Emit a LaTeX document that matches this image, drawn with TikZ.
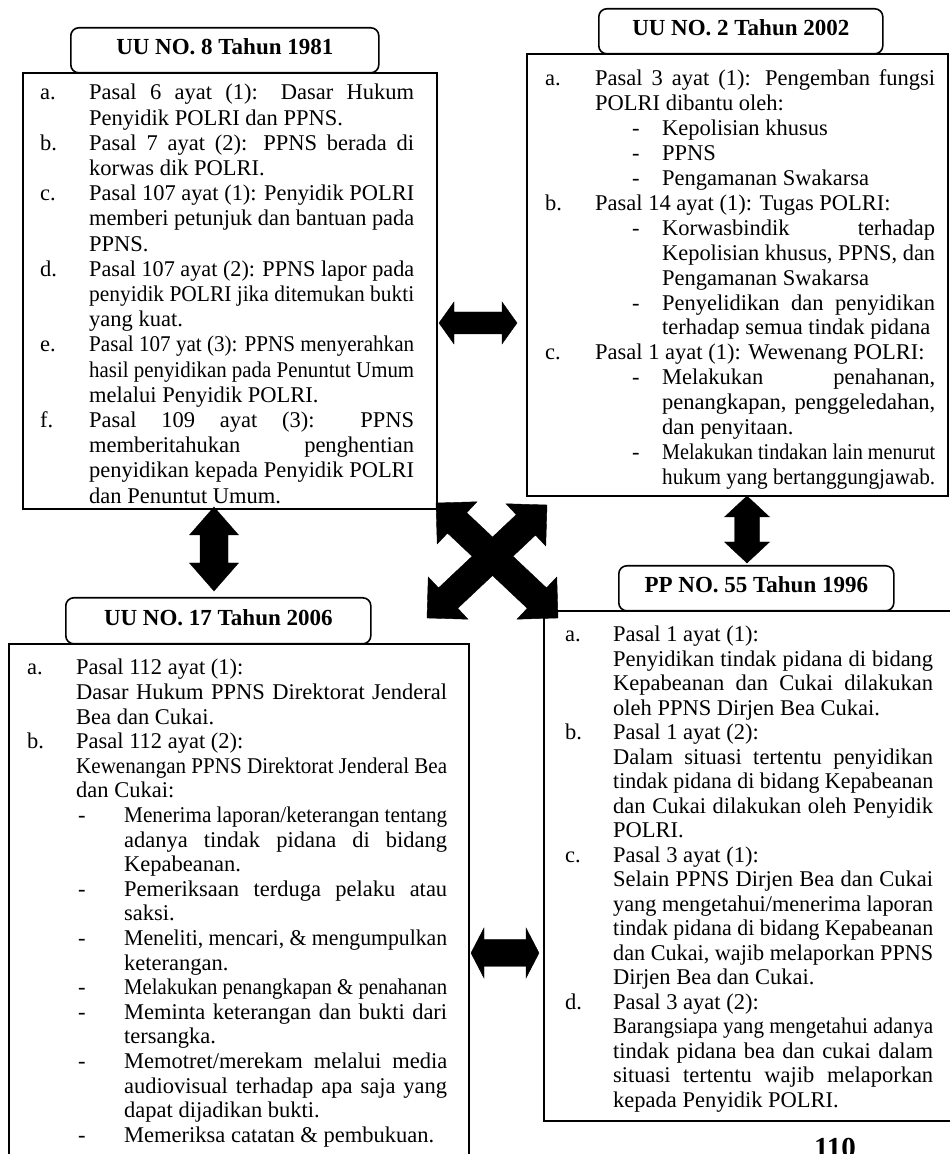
\documentclass[tikz,border=0pt]{standalone}
\usepackage{fontspec}
\setmainfont{Liberation Serif}
\usepackage{graphicx}
\usetikzlibrary{calc}
\newsavebox\xlinebox
\newlength\labw \newlength\dashx \newlength\subx
\hbadness=10000 \hfuzz=100pt
\newcommand\bodyfont{\fontsize{22.5}{25}\selectfont}
\newcommand\jline[2]{\sbox\xlinebox{#2}\ifdim\wd\xlinebox>#1\relax\resizebox{#1}{\height}{\usebox\xlinebox}\else\hbox to #1{#2}\fi}
\newcommand\rline[2]{\sbox\xlinebox{#2}\ifdim\wd\xlinebox>#1\relax\resizebox{#1}{\height}{\usebox\xlinebox}\else\hbox to #1{#2\hfil}\fi}
\newcommand\xLJ[2]{\hbox to\linewidth{\hbox to\labw{#1\hfil}\jline{\dimexpr\linewidth-\labw\relax}{#2}}}
\newcommand\xLR[2]{\hbox to\linewidth{\hbox to\labw{#1\hfil}\rline{\dimexpr\linewidth-\labw\relax}{#2}}}
\newcommand\xCJ[1]{\xLJ{}{#1}}
\newcommand\xCR[1]{\xLR{}{#1}}
\newcommand\xDJ[1]{\hbox to\linewidth{\hbox to\subx{\hskip\dashx\relax-\hfil}\jline{\dimexpr\linewidth-\subx\relax}{#1}}}
\newcommand\xDR[1]{\hbox to\linewidth{\hbox to\subx{\hskip\dashx\relax-\hfil}\rline{\dimexpr\linewidth-\subx\relax}{#1}}}
\newcommand\xSJ[1]{\hbox to\linewidth{\hskip\subx\relax\jline{\dimexpr\linewidth-\subx\relax}{#1}}}
\newcommand\xSR[1]{\hbox to\linewidth{\hskip\subx\relax\rline{\dimexpr\linewidth-\subx\relax}{#1}}}
% fat double arrow: from, to, shaft half width, head half width, head length
\newcommand\fatarrow[5]{%
  \path let \p1=(#1), \p2=(#2) in \pgfextra{%
    \pgfmathsetmacro\fax{\x1}\pgfmathsetmacro\fay{\y1}%
    \pgfmathsetmacro\fatlen{veclen(\x2-\x1,\y2-\y1)}%
    \pgfmathsetmacro\fux{(\x2-\x1)/\fatlen}%
    \pgfmathsetmacro\fuy{(\y2-\y1)/\fatlen}%
    \pgfmathsetmacro\fbk{\fatlen-#5}%
    \global\let\fax\fax \global\let\fay\fay \global\let\fatlen\fatlen
    \global\let\fux\fux \global\let\fuy\fuy \global\let\fbk\fbk};
  \path[fatshape]
    ({\fax},{\fay})
    -- ({\fax+(#5)*\fux-(#4)*\fuy},{\fay+(#5)*\fuy+(#4)*\fux})
    -- ({\fax+(#5)*\fux-(#3)*\fuy},{\fay+(#5)*\fuy+(#3)*\fux})
    -- ({\fax+(\fbk)*\fux-(#3)*\fuy},{\fay+(\fbk)*\fuy+(#3)*\fux})
    -- ({\fax+(\fbk)*\fux-(#4)*\fuy},{\fay+(\fbk)*\fuy+(#4)*\fux})
    -- ({\fax+(\fatlen)*\fux},{\fay+(\fatlen)*\fuy})
    -- ({\fax+(\fbk)*\fux+(#4)*\fuy},{\fay+(\fbk)*\fuy-(#4)*\fux})
    -- ({\fax+(\fbk)*\fux+(#3)*\fuy},{\fay+(\fbk)*\fuy-(#3)*\fux})
    -- ({\fax+(#5)*\fux+(#3)*\fuy},{\fay+(#5)*\fuy-(#3)*\fux})
    -- ({\fax+(#5)*\fux+(#4)*\fuy},{\fay+(#5)*\fuy-(#4)*\fux})
    -- cycle;
}
\tikzset{
  mainbox/.style={draw, line width=2.4pt, inner sep=0pt, anchor=north west},
  titlebox/.style={draw, line width=1.6pt, rounded corners=8pt, inner sep=0pt, anchor=north west,
    font=\fontsize{23}{27}\selectfont\bfseries, text height=16pt, text depth=7pt},
  bodytext/.style={anchor=base west, inner sep=0pt},
  fatshape/.style={fill=black, draw=black, line width=0.4pt, line join=miter},
}
\begin{document}
\begin{tikzpicture}[x=1pt,y=1pt]
\path[use as bounding box, fill=white] (0,0) rectangle (950,1154);

% ---------- Box 1 ----------
\node[titlebox, minimum width=308pt, minimum height=45pt] (t1) at (70,1127) {UU NO. 8 Tahun 1981};
\node[mainbox, minimum width=414pt, minimum height=436pt] (b1) at (22,1082) {};
\node[bodytext] (x1) at (40,1054) {\parbox[t]{374pt}{\bodyfont\baselineskip=25.2pt\lineskiplimit=-100pt\setlength\labw{49pt}%
\xLJ{a.}{Pasal 6 ayat (1): Dasar Hukum}
\xCR{Penyidik POLRI dan PPNS.}
\xLJ{b.}{Pasal 7 ayat (2): PPNS berada di}
\xCR{korwas dik POLRI.}
\xLJ{c.}{Pasal 107 ayat (1): Penyidik POLRI}
\xCJ{memberi petunjuk dan bantuan pada}
\xCR{PPNS.}
\xLJ{d.}{Pasal 107 ayat (2): PPNS lapor pada}
\xCJ{penyidik POLRI jika ditemukan bukti}
\xCR{yang kuat.}
\xLJ{e.}{Pasal 107 yat (3): PPNS menyerahkan}
\xCJ{hasil penyidikan pada Penuntut Umum}
\xCR{melalui Penyidik POLRI.}
\xLJ{f.}{Pasal 109 ayat (3): PPNS}
\xCJ{memberitahukan penghentian}
\xCJ{penyidikan kepada Penyidik POLRI}
\xCR{dan Penuntut Umum.}
}};

% ---------- Box 2 ----------
\node[titlebox, minimum width=284pt, minimum height=45pt] (t2) at (598,1146) {UU NO. 2 Tahun 2002};
\node[mainbox, minimum width=421pt, minimum height=442pt] (b2) at (526,1101) {};
\node[bodytext] (x2) at (545,1068) {\parbox[t]{390pt}{\bodyfont\baselineskip=24.9pt\lineskiplimit=-100pt\setlength\labw{50pt}\setlength\dashx{87pt}\setlength\subx{117pt}%
\xLJ{a.}{Pasal 3 ayat (1): Pengemban fungsi}
\xCR{POLRI dibantu oleh:}
\xDR{Kepolisian khusus}
\xDR{PPNS}
\xDR{Pengamanan Swakarsa}
\xLR{b.}{Pasal 14 ayat (1): Tugas POLRI:}
\xDJ{Korwasbindik terhadap}
\xSJ{Kepolisian khusus, PPNS, dan}
\xSR{Pengamanan Swakarsa}
\xDJ{Penyelidikan dan penyidikan}
\xSR{terhadap semua tindak pidana}
\xLR{c.}{Pasal 1 ayat (1): Wewenang POLRI:}
\xDJ{Melakukan penahanan,}
\xSJ{penangkapan, penggeledahan,}
\xSR{dan penyitaan.}
\xDJ{Melakukan tindakan lain menurut}
\xSR{hukum yang bertanggungjawab.}
}};

% ---------- Box 3 ----------
\node[titlebox, minimum width=305pt, minimum height=46pt] (t3) at (65,557) {UU NO. 17 Tahun 2006};
\node[mainbox, minimum width=460pt, minimum height=527pt] (b3) at (8,511) {};
\node[bodytext] (x3) at (27,479) {\parbox[t]{420pt}{\bodyfont\baselineskip=24.6pt\lineskiplimit=-100pt\setlength\labw{49pt}\setlength\dashx{51pt}\setlength\subx{97pt}%
\xLR{a.}{Pasal 112 ayat (1):}
\xCJ{Dasar Hukum PPNS Direktorat Jenderal}
\xCR{Bea dan Cukai.}
\xLR{b.}{Pasal 112 ayat (2):}
\xCJ{Kewenangan PPNS Direktorat Jenderal Bea}
\xCR{dan Cukai:}
\xDJ{Menerima laporan/keterangan tentang}
\xSJ{adanya tindak pidana di bidang}
\xSR{Kepabeanan.}
\xDJ{Pemeriksaan terduga pelaku atau}
\xSR{saksi.}
\xDJ{Meneliti, mencari, \& mengumpulkan}
\xSR{keterangan.}
\xDJ{Melakukan penangkapan \& penahanan}
\xDJ{Meminta keterangan dan bukti dari}
\xSR{tersangka.}
\xDJ{Memotret/merekam melalui media}
\xSJ{audiovisual terhadap apa saja yang}
\xSR{dapat dijadikan bukti.}
\xDR{Memeriksa catatan \& pembukuan.}
}};

% ---------- Box 4 ----------
\node[titlebox, minimum width=275pt, minimum height=45pt] (t4) at (618,589) {PP NO. 55 Tahun 1996};
\node[mainbox, minimum width=417pt, minimum height=510pt] (b4) at (543,544) {};
\node[bodytext] (x4) at (565,512) {\parbox[t]{368pt}{\bodyfont\baselineskip=24.5pt\lineskiplimit=-100pt\setlength\labw{48pt}%
\xLR{a.}{Pasal 1 ayat (1):}
\xCJ{Penyidikan tindak pidana di bidang}
\xCJ{Kepabeanan dan Cukai dilakukan}
\xCR{oleh PPNS Dirjen Bea Cukai.}
\xLR{b.}{Pasal 1 ayat (2):}
\xCJ{Dalam situasi tertentu penyidikan}
\xCJ{tindak pidana di bidang Kepabeanan}
\xCJ{dan Cukai dilakukan oleh Penyidik}
\xCR{POLRI.}
\xLR{c.}{Pasal 3 ayat (1):}
\xCJ{Selain PPNS Dirjen Bea dan Cukai}
\xCJ{yang mengetahui/menerima laporan}
\xCJ{tindak pidana di bidang Kepabeanan}
\xCJ{dan Cukai, wajib melaporkan PPNS}
\xCR{Dirjen Bea dan Cukai.}
\xLR{d.}{Pasal 3 ayat (2):}
\xCJ{Barangsiapa yang mengetahui adanya}
\xCJ{tindak pidana bea dan cukai dalam}
\xCJ{situasi tertentu wajib melaporkan}
\xCR{kepada Penyidik POLRI.}
}};

% ---------- Arrows ----------
\coordinate (a12l) at (439,831); \coordinate (a12r) at (517,831);
\coordinate (a13t) at (214,647); \coordinate (a13b) at (214,563);
\coordinate (a24t) at (747,658); \coordinate (a24b) at (747,591);
\coordinate (a34l) at (471,201); \coordinate (a34r) at (539,201);
\coordinate (xa1) at (436,651); \coordinate (xb1) at (558,536);
\coordinate (xa2) at (547,649); \coordinate (xb2) at (427,536);
\path[fatshape] (a12l) -- ++(15,21) -- ++(0,-10) -- ++(48,0) -- ++(0,10) -- (a12r)
  -- ++(-15,-21) -- ++(0,10) -- ++(-48,0) -- ++(0,-10) -- cycle;
\path[fatshape] (a34l) -- ++(13,25) -- ++(0,-11.5) -- ++(42,0) -- ++(0,11.5) -- (a34r)
  -- ++(-13,-25) -- ++(0,11.5) -- ++(-42,0) -- ++(0,-11.5) -- cycle;
\path[fatshape] (a13t) -- ++(24.5,-28) -- ++(-10.5,0) -- ++(0,-28) -- ++(10.5,0) -- (a13b)
  -- ++(-24.5,28) -- ++(10.5,0) -- ++(0,28) -- ++(-10.5,0) -- cycle;
\path[fatshape] (a24t) -- ++(22.5,-21) -- ++(-10,0) -- ++(0,-25) -- ++(10,0) -- (a24b)
  -- ++(-22.5,21) -- ++(10,0) -- ++(0,25) -- ++(-10,0) -- cycle;
\fatarrow{xa1}{xb1}{14}{29}{29}
\fatarrow{xa2}{xb2}{14}{29}{29}

% ---------- Page number ----------
\node[font=\fontsize{29}{30}\selectfont\bfseries, anchor=base, inner sep=0pt] (pg) at (835,-4) {110};
\end{tikzpicture}
\end{document}
